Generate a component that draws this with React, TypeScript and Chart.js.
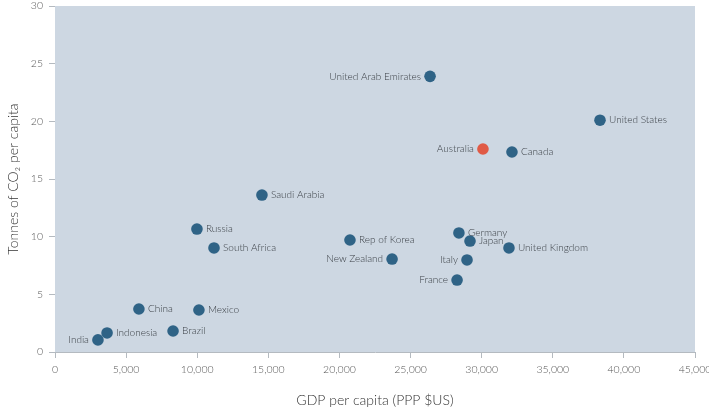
import React, { useEffect, useRef } from "react";
import { Chart, registerables } from "chart.js";

Chart.register(...registerables);

const countries = [
  "India", "Indonesia", "China", "Brazil", "Mexico", "Russia", "South Africa",
  "Saudi Arabia", "United Arab Emirates", "Rep of Korea", "New Zealand",
  "Germany", "Japan", "Italy", "France", "United Kingdom", "Australia",
  "Canada", "United States",
];
const gdpPerCapita = [
  3020, 3660, 5900, 8300, 10120, 9980, 11180,
  14550, 26370, 20740, 23700,
  28400, 29180, 28970, 28270, 31920, 30090,
  32130, 38320,
];
const co2PerCapita = [
  1.05, 1.65, 3.73, 1.82, 3.64, 10.66, 9.02,
  13.61, 23.9, 9.71, 8.06,
  10.32, 9.62, 7.98, 6.24, 9.02, 17.6,
  17.34, 20.1,
];
const highlighted = ["Australia"];
const labelsOnLeft = ["India", "United Arab Emirates", "Australia", "New Zealand", "Italy", "France"];

const xTicks = [0, 5000, 10000, 15000, 20000, 25000, 30000, 35000, 40000, 45000];
const yTicks = [0, 5, 10, 15, 20, 25, 30];

const FONT = "Lato, 'DejaVu Sans', sans-serif";

const bgPlugin = {
  id: "plotBg",
  beforeDraw(chart: any) {
    const { ctx, chartArea } = chart;
    ctx.save();
    ctx.fillStyle = "#cdd7e2";
    ctx.fillRect(chartArea.left, chartArea.top, chartArea.right - chartArea.left, chartArea.bottom - chartArea.top);
    ctx.restore();
  },
};

const labelPlugin = {
  id: "pointLabels",
  afterDatasetsDraw(chart: any) {
    const { ctx } = chart;
    const meta = chart.getDatasetMeta(0);
    ctx.save();
    ctx.font = `300 10px ${FONT}`;
    ctx.fillStyle = "#3a3f45";
    ctx.textBaseline = "middle";
    meta.data.forEach((pt: any, i: number) => {
      const name = countries[i];
      const left = labelsOnLeft.includes(name);
      ctx.textAlign = left ? "right" : "left";
      ctx.fillText(name, pt.x + (left ? -9 : 9), pt.y);
    });
    ctx.restore();
  },
};

export default function App() {
  const ref = useRef<HTMLCanvasElement>(null);
  useEffect(() => {
    if (!ref.current) return;
    const data = gdpPerCapita.map((x, i) => ({ x, y: co2PerCapita[i] }));
    const colors = countries.map((c) => (highlighted.includes(c) ? "#e05a45" : "#2f6386"));
    const chart = new Chart(ref.current, {
      type: "scatter",
      data: {
        datasets: [
          {
            data,
            backgroundColor: colors,
            borderColor: colors,
            pointRadius: 5.8,
            pointHoverRadius: 5.8,
            borderWidth: 0,
          },
        ],
      },
      options: {
        animation: false,
        responsive: false,
        maintainAspectRatio: false,
        layout: { autoPadding: false, padding: { top: 6, right: 14, left: 0, bottom: 0 } },
        plugins: { legend: { display: false }, tooltip: { enabled: false } },
        scales: {
          x: {
            type: "linear",
            min: 0,
            max: 45000,
            afterBuildTicks: (s: any) => { s.ticks = xTicks.map((v) => ({ value: v })); },
            afterFit: (s: any) => { s.height = 63; s.paddingLeft = 0; s.paddingRight = 0; },
            grid: { display: true, drawOnChartArea: false, drawTicks: true, tickLength: 6, color: "#b4bac0" },
            border: { display: true, color: "#b4bac0" },
            ticks: {
              color: "#555",
              font: { family: FONT, size: 10.5, weight: 300 },
              padding: 5,
              maxRotation: 0,
              callback: (v: any) => Number(v).toLocaleString("en-US"),
            },
            title: {
              display: true,
              text: "GDP per capita (PPP $US)",
              color: "#333",
              font: { family: FONT, size: 14, weight: 300 },
              padding: { top: 8, bottom: 6 },
            },
          },
          y: {
            type: "linear",
            min: 0,
            max: 30,
            afterBuildTicks: (s: any) => { s.ticks = yTicks.map((v) => ({ value: v })); },
            afterFit: (s: any) => { s.width = 55; s.paddingTop = 0; s.paddingBottom = 0; },
            grid: { display: true, drawOnChartArea: false, drawTicks: true, tickLength: 6, color: "#b4bac0" },
            border: { display: false },
            ticks: {
              color: "#555",
              font: { family: FONT, size: 10.5, weight: 300 },
              padding: 6,
            },
            title: {
              display: true,
              text: "Tonnes of CO₂ per capita",
              color: "#333",
              font: { family: FONT, size: 14, weight: 300 },
              padding: { top: 5, bottom: 0 },
            },
          },
        },
      },
      plugins: [bgPlugin, labelPlugin],
    });
    return () => chart.destroy();
  }, []);
  return (
    <div style={{ position: "absolute", left: 0, top: 0, width: 709, height: 415, background: "#fff" }}>
      <canvas ref={ref} width={709} height={415} style={{ width: 709, height: 415 }} />
    </div>
  );
}
